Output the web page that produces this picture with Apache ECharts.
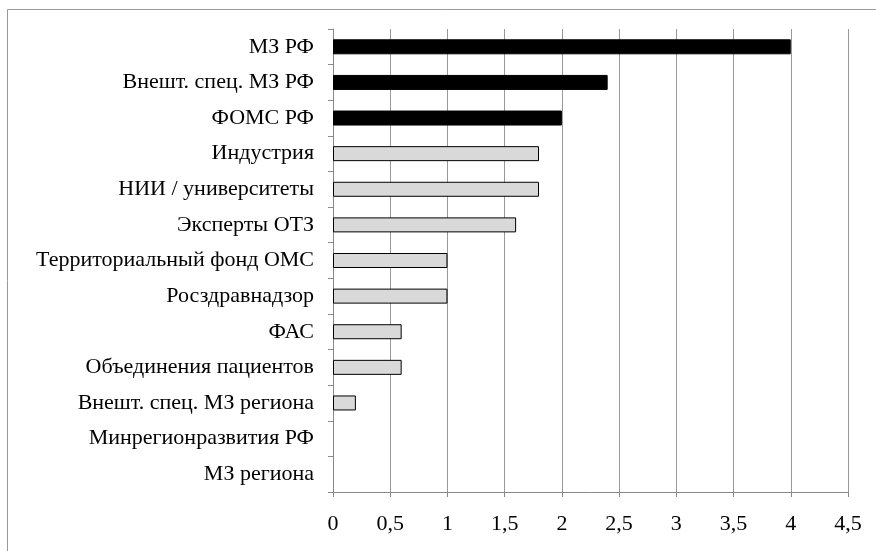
<!DOCTYPE html>
<html>
<head>
<meta charset="utf-8">
<script src="https://cdn.jsdelivr.net/npm/echarts@6/dist/echarts.min.js"></script>
<style>
  html, body { margin: 0; padding: 0; background: #fff; }
  #chart { width: 876px; height: 551px; }
</style>
</head>
<body>
<div id="chart"></div>
<script>
// категории сверху вниз
const categories = [
  'МЗ РФ',
  'Внешт. спец. МЗ РФ',
  'ФОМС РФ',
  'Индустрия',
  'НИИ / университеты',
  'Эксперты ОТЗ',
  'Территориальный фонд ОМС',
  'Росздравнадзор',
  'ФАС',
  'Объединения пациентов',
  'Внешт. спец. МЗ региона',
  'Минрегионразвития РФ',
  'МЗ региона'
];
const values = [4, 2.4, 2, 1.8, 1.8, 1.6, 1, 1, 0.6, 0.6, 0.2, 0, 0];
// первые три — федеральный уровень (чёрные)
const federalCount = 3;
const xTicks = [0, 0.5, 1, 1.5, 2, 2.5, 3, 3.5, 4, 4.5];

const chart = echarts.init(document.getElementById('chart'), null, { renderer: 'canvas' });

const font = '"Liberation Serif", "DejaVu Serif", serif';

// нулевые столбики не рисуем (без рамки)
const barData = values.map((v, i) => ({
  value: v,
  itemStyle: {
    color: i < federalCount ? '#000' : '#d9d9d9',
    borderColor: '#000',
    borderWidth: v === 0 ? 0 : 1
  }
}));

chart.setOption({
  animation: false,
  backgroundColor: '#fff',
  textStyle: { fontFamily: font },
  graphic: [{
    type: 'rect',
    shape: { x: 7.5, y: 9.5, width: 900, height: 600 },
    style: { fill: 'none', stroke: '#999', lineWidth: 1 },
    silent: true
  }],
  grid: { left: 333, right: 28, top: 29, bottom: 59 },
  xAxis: {
    type: 'value',
    min: xTicks[0],
    max: xTicks[xTicks.length - 1],
    interval: 0.5,
    axisLine: { show: true, lineStyle: { color: '#888', width: 1 } },
    axisTick: { show: true, inside: false, length: 5, lineStyle: { color: '#888' } },
    splitLine: { show: true, lineStyle: { color: '#999', width: 1 } },
    axisLabel: {
      color: '#000',
      fontSize: 22,
      fontFamily: font,
      margin: 21,
      formatter: v => String(v).replace('.', ',')
    }
  },
  yAxis: {
    type: 'category',
    data: categories,
    inverse: true,
    axisLine: { show: true, lineStyle: { color: '#888', width: 1 } },
    axisTick: { show: true, inside: false, length: 5, lineStyle: { color: '#888' } },
    axisLabel: { color: '#000', fontSize: 22, fontFamily: font, margin: 19 },
    splitLine: { show: false }
  },
  series: [{
    type: 'bar',
    data: barData,
    barWidth: 15
  }]
});
</script>
</body>
</html>
